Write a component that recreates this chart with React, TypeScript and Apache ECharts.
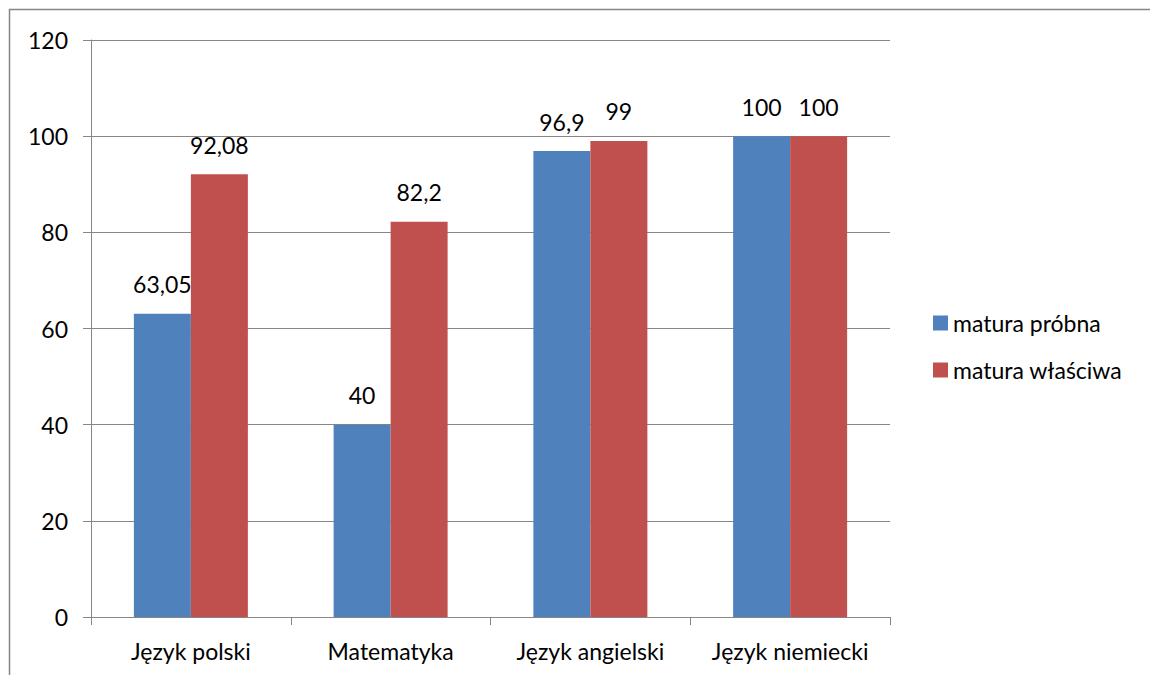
import React, { useEffect, useRef } from "react";
import * as echarts from "echarts";

const categories = ["Język polski", "Matematyka", "Język angielski", "Język niemiecki"];
const seriesNames = ["matura próbna", "matura właściwa"];
const proba = [63.05, 40, 96.9, 100];
const wlasciwa = [92.08, 82.2, 99, 100];
const yTicks = [0, 20, 40, 60, 80, 100, 120];

const FONT = "Lato";
const FS = 23;
const fmt = (v: number) => String(v).replace(".", ",");

export default function App() {
  const ref = useRef<HTMLDivElement>(null);
  useEffect(() => {
    document.body.style.margin = "0";
    const chart = echarts.init(ref.current!, null, { renderer: "svg" });
    const label = {
      show: true,
      position: "top",
      distance: 18,
      color: "#000",
      fontFamily: FONT,
      fontSize: FS,
      formatter: (p: any) => fmt(p.value),
    };
    chart.setOption({
      animation: false,
      backgroundColor: "#fff",
      textStyle: { fontFamily: FONT },
      graphic: [
        {
          type: "rect",
          shape: { x: 9.5, y: 9.5, width: 1300, height: 800 },
          style: { fill: "none", stroke: "#868686", lineWidth: 1.5 },
          silent: true,
        },
      ],
      grid: { left: 91, right: 260, top: 40, bottom: 58 },
      legend: {
        orient: "vertical",
        left: 933,
        top: 311,
        padding: 0,
        itemWidth: 15,
        itemHeight: 15,
        itemGap: 23,
        icon: "rect",
        textStyle: { fontFamily: FONT, fontSize: FS, color: "#000", lineHeight: 24 },
        data: seriesNames,
      },
      xAxis: {
        type: "category",
        data: categories,
        axisLine: { lineStyle: { color: "#868686", width: 1 } },
        axisTick: { show: true, interval: 0, length: 8, alignWithLabel: false, lineStyle: { color: "#868686" } },
        axisLabel: { interval: 0, color: "#000", fontFamily: FONT, fontSize: FS, margin: 22 },
        splitLine: { show: false },
      },
      yAxis: {
        type: "value",
        min: yTicks[0],
        max: yTicks[yTicks.length - 1],
        interval: 20,
        axisLine: { show: true, lineStyle: { color: "#868686", width: 1 } },
        axisTick: { show: true, length: 8, lineStyle: { color: "#868686" } },
        axisLabel: { color: "#000", fontFamily: FONT, fontSize: FS, margin: 23 },
        splitLine: { show: true, lineStyle: { color: "#868686", width: 1 } },
      },
      series: [
        {
          name: seriesNames[0],
          type: "bar",
          data: proba,
          barWidth: 57,
          barGap: "0%",
          itemStyle: { color: "#4F81BD" },
          label,
        },
        {
          name: seriesNames[1],
          type: "bar",
          data: wlasciwa,
          barWidth: 57,
          barGap: "0%",
          itemStyle: { color: "#C0504D" },
          label,
        },
      ],
    });
    return () => chart.dispose();
  }, []);
  return <div ref={ref} style={{ width: 1150, height: 675 }} />;
}
